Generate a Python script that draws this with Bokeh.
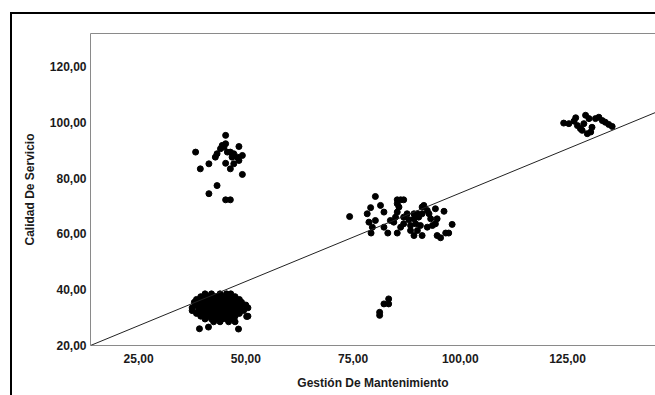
from bokeh.plotting import figure
from bokeh.models import Range1d, FixedTicker, Slope, LinearAxis
from bokeh.embed import file_html
from bokeh.resources import INLINE

# ---- data (Gestión De Mantenimiento, Calidad De Servicio) ----
cluster_high_left = [
    (45.3, 95.3), (38.3, 89.3), (44.5, 91.7), (45.3, 92.3), (44.1, 90.5), (44.9, 91.1),
    (43.3, 88.7), (42.9, 87.5), (46.4, 89.3), (47.2, 88.7), (48.4, 91.3), (49.2, 88.1),
    (48.0, 87.5), (48.4, 86.3), (47.2, 85.1), (46.4, 83.3), (45.3, 85.3), (41.4, 85.1),
    (39.4, 83.3), (49.2, 81.3), (43.3, 77.3), (41.4, 74.4), (45.3, 72.2), (46.4, 72.2),
    (45.7, 89.3), (46.8, 87.5),
]

cluster_low_left = [
    (40.5, 38.5), (42.0, 38.5), (44.0, 38.5), (45.5, 38.5), (46.5, 38.5),
    (39.5, 37.5), (40.5, 37.5), (41.5, 37.5), (43.0, 37.5), (44.0, 37.5), (45.0, 37.5), (46.0, 37.5), (47.5, 37.5),
    (38.5, 36.5), (40.0, 36.5), (41.0, 36.5), (42.0, 36.5), (43.5, 36.5), (44.5, 36.5), (45.5, 36.5),
    (46.5, 36.5), (47.5, 36.5), (48.5, 36.5),
    (38.0, 35.5), (39.5, 35.5), (41.0, 35.5), (42.0, 35.5), (43.0, 35.5), (44.0, 35.5), (45.0, 35.5),
    (46.0, 35.5), (47.0, 35.5), (48.0, 35.5), (49.0, 35.5),
    (38.5, 34.5), (40.0, 34.5), (41.0, 34.5), (42.5, 34.5), (43.5, 34.5), (44.5, 34.5), (45.5, 34.5),
    (46.5, 34.5), (47.5, 34.5), (49.0, 34.5), (50.0, 34.5),
    (37.5, 33.5), (39.0, 33.5), (40.0, 33.5), (41.5, 33.5), (42.5, 33.5), (43.5, 33.5), (44.5, 33.5),
    (45.5, 33.5), (46.5, 33.5), (47.5, 33.5), (48.5, 33.5), (50.5, 33.5),
    (37.5, 32.5), (39.0, 32.5), (40.5, 32.5), (41.5, 32.5), (42.5, 32.5), (44.0, 32.5), (45.0, 32.5),
    (46.0, 32.5), (47.0, 32.5), (48.0, 32.5), (49.5, 32.5),
    (38.5, 31.5), (40.0, 31.5), (41.0, 31.5), (42.0, 31.5), (43.0, 31.5), (44.0, 31.5), (45.0, 31.5),
    (46.0, 31.5), (47.0, 31.5), (48.5, 31.5),
    (39.5, 30.5), (41.0, 30.5), (42.0, 30.5), (43.5, 30.5), (44.5, 30.5), (45.5, 30.5), (46.5, 30.5),
    (47.5, 30.5), (50.5, 30.5),
    (40.5, 29.5), (42.0, 29.5), (43.0, 29.5), (44.5, 29.5), (45.5, 29.5), (47.0, 29.5),
    (42.5, 28.5), (44.0, 28.5), (46.0, 28.5), (47.5, 28.5),
    (39.2, 26.0), (41.3, 26.6), (48.3, 25.9), (50.2, 30.4),
]

cluster_middle = [
    (74.2, 66.2), (80.2, 73.4), (79.1, 69.4), (81.4, 70.2), (78.3, 67.2), (82.2, 67.8),
    (78.7, 64.2), (80.2, 64.8), (79.5, 62.4), (79.2, 60.3), (82.2, 62.4), (83.1, 60.3),
    (85.3, 60.3), (86.1, 62.4), (85.3, 72.2), (86.1, 72.2), (86.8, 72.2), (85.3, 70.8),
    (85.7, 69.6), (85.3, 67.8), (84.9, 66.0), (84.5, 64.2), (83.7, 64.8), (86.8, 66.0),
    (88.0, 65.1), (89.2, 65.4), (90.3, 66.0), (91.1, 67.2), (87.6, 67.2), (89.2, 67.2),
    (90.0, 67.2), (86.8, 63.6), (88.4, 63.0), (89.6, 63.6), (90.7, 63.0), (91.1, 69.6),
    (91.5, 70.2), (92.3, 68.4), (92.7, 67.2), (93.1, 65.4), (93.5, 63.0), (92.3, 62.4),
    (89.2, 59.4), (91.1, 59.4), (94.2, 69.0), (96.2, 68.1), (94.2, 63.6), (94.6, 65.4),
    (94.6, 59.4), (95.4, 58.6), (96.6, 60.3), (98.1, 63.4), (97.3, 60.3), (88.4, 61.2),
    (90.0, 61.2),
]

cluster_middle_low = [
    (81.2, 31.9), (81.2, 30.8), (82.2, 34.9), (83.3, 36.7), (83.3, 34.9),
]

cluster_high_right = [
    (124.1, 99.7), (125.3, 99.5), (126.5, 100.4), (126.9, 101.6), (127.3, 98.8),
    (128.0, 97.7), (128.8, 99.5), (129.2, 102.5), (130.0, 101.3), (130.4, 96.5),
    (130.7, 98.2), (131.5, 101.3), (132.3, 101.8), (133.1, 100.6), (133.8, 100.0),
    (134.6, 99.2), (135.4, 98.5), (129.6, 95.9), (128.4, 97.1),
]

x_ticks = [25, 50, 75, 100, 125]
x_tick_labels = ["25,00", "50,00", "75,00", "100,00", "125,00"]
y_ticks = [20, 40, 60, 80, 100, 120]
y_tick_labels = ["20,00", "40,00", "60,00", "80,00", "100,00", "120,00"]

x_label = "Gestión De Mantenimiento"
y_label = "Calidad De Servicio"

fit_intercept = 11.25
fit_slope = 0.634

x_min, x_max = 13.8, 145.5
y_min, y_max = 20.0, 131.8

all_points = cluster_high_left + cluster_low_left + cluster_middle + cluster_middle_low + cluster_high_right
gestion = [pt[0] for pt in all_points]
calidad = [pt[1] for pt in all_points]

FONT = "Liberation Sans"
AXIS_GRAY = "#8a8a8a"

p = figure(
    width=655, height=395,
    output_backend="svg", toolbar_location=None,
    x_range=Range1d(x_min, x_max), y_range=Range1d(y_min, y_max),
    min_border_left=90, min_border_right=0, min_border_top=33, min_border_bottom=50,
    background_fill_color="white", border_fill_color=None,
)
p.outline_line_color = None
p.grid.visible = False

# outer chart border (black, left and top edges visible) drawn behind the canvas
p.styles = {
    "background-color": "white",
    "background-image": "linear-gradient(#000, #000), linear-gradient(#000, #000)",
    "background-position": "10px 12px, 10px 12px",
    "background-size": "2px 100%, 100% 2px",
    "background-repeat": "no-repeat, no-repeat",
}

# axes
p.xaxis.ticker = FixedTicker(ticks=x_ticks)
p.yaxis.ticker = FixedTicker(ticks=y_ticks)
p.xaxis.major_label_overrides = dict(zip(x_ticks, x_tick_labels))
p.yaxis.major_label_overrides = dict(zip(y_ticks, y_tick_labels))
for ax in (p.xaxis, p.yaxis):
    ax.major_tick_in = 0
    ax.major_tick_out = 0
    ax.minor_tick_in = 0
    ax.minor_tick_out = 0
    ax.axis_line_color = AXIS_GRAY
    ax.axis_line_width = 1
    ax.major_label_text_font = FONT
    ax.major_label_text_font_size = "12px"
    ax.major_label_text_font_style = "bold"
    ax.major_label_text_color = "#1a1a1a"
    ax.axis_label_text_font = FONT
    ax.axis_label_text_font_size = "12px"
    ax.axis_label_text_font_style = "bold"
    ax.axis_label_text_color = "#1a1a1a"
p.xaxis.axis_label = x_label
p.yaxis.axis_label = y_label
p.xaxis.major_label_standoff = 8
p.xaxis.axis_label_standoff = 10
p.yaxis.major_label_standoff = 4
p.yaxis.axis_label_standoff = 10

# top edge of the plot frame (runs off the right of the picture)
top_edge = LinearAxis(ticker=FixedTicker(ticks=[]), axis_line_color=AXIS_GRAY,
                      axis_line_width=1, major_tick_in=0, major_tick_out=0,
                      minor_tick_in=0, minor_tick_out=0,
                      major_label_text_font_size="0px")
p.add_layout(top_edge, "above")

# fit line
p.add_layout(Slope(gradient=fit_slope, y_intercept=fit_intercept,
                   line_color="#222222", line_width=1))

# points
p.scatter(gestion, calidad, size=6, marker="circle",
          fill_color="black", line_color="black")

open("out.html", "w").write(file_html(p, INLINE))
